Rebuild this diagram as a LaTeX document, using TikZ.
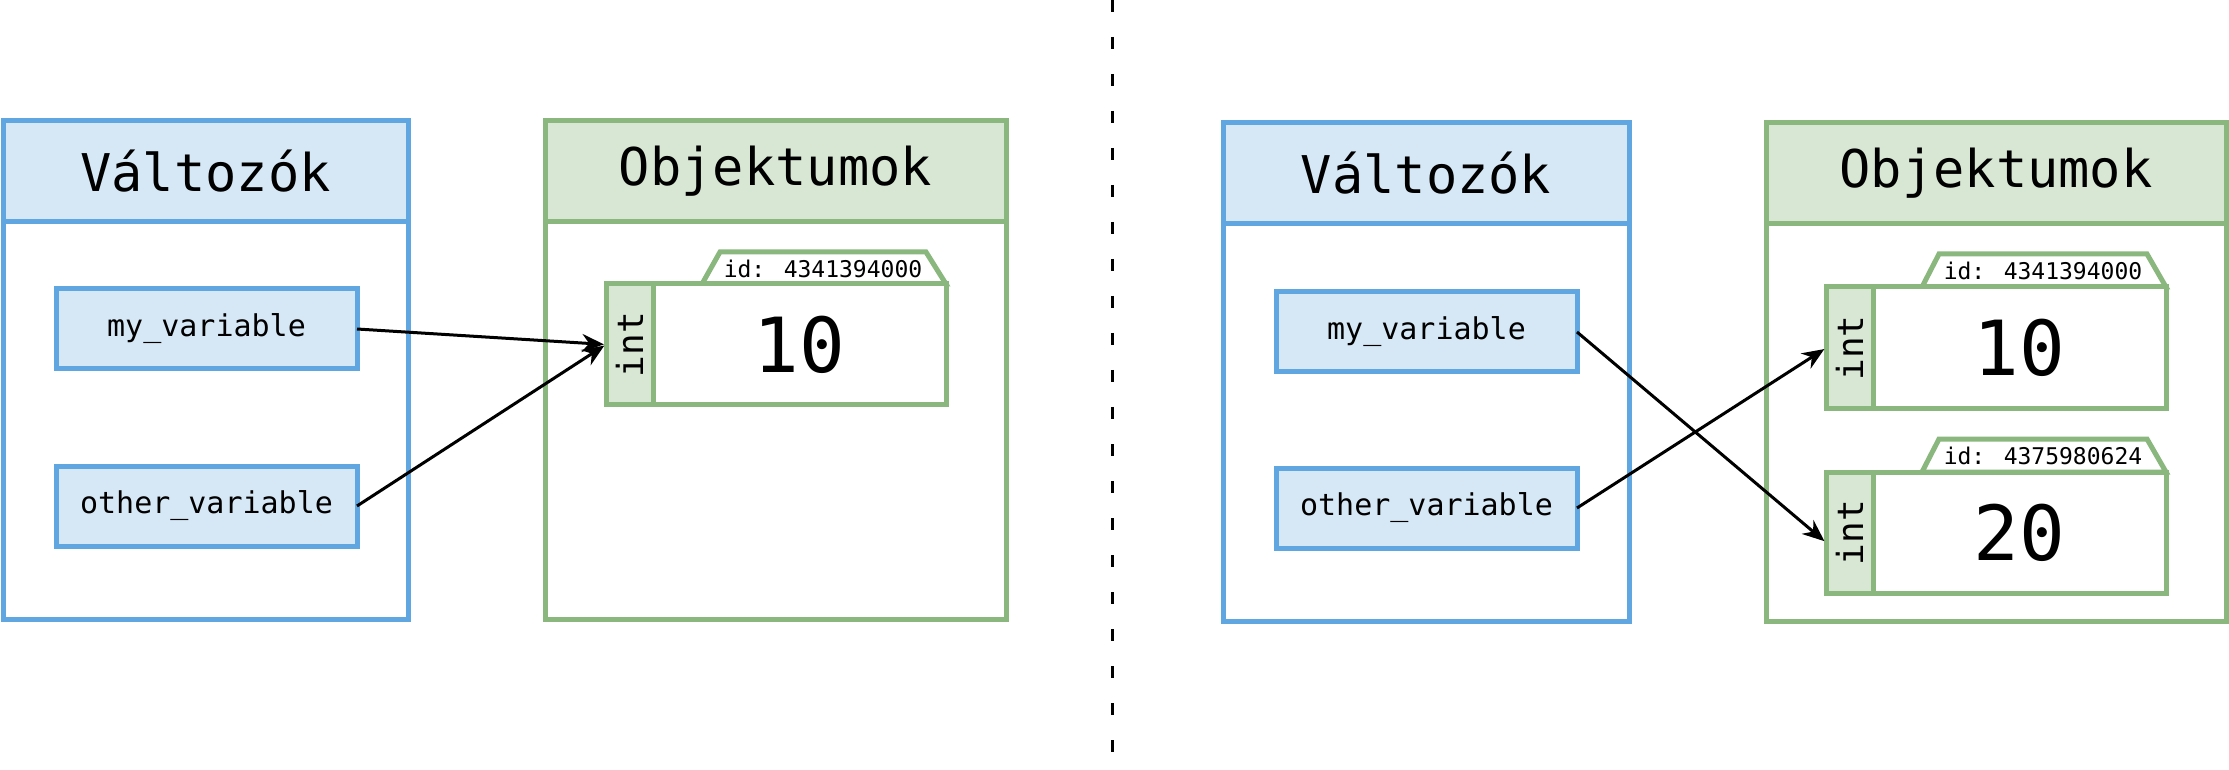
\documentclass[tikz,border=0pt]{standalone}
\usepackage{fontspec}
\setmainfont{DejaVu Sans Mono}
\usetikzlibrary{arrows.meta,calc}
\definecolor{bstroke}{RGB}{96,167,226}
\definecolor{bfill}{RGB}{214,232,246}
\definecolor{gstroke}{RGB}{138,183,125}
\definecolor{gfill}{RGB}{216,230,212}
\tikzset{
 sized/.style 2 args={minimum width=#1*0.5pt, minimum height=#2*0.5pt},
 panel/.style={inner sep=0pt, outer sep=0pt, line width=2.5pt},
 vpanel/.style={panel, draw=bstroke, fill=white},
 vhead/.style={panel, draw=bstroke, fill=bfill, font=\fontsize{26}{30}\selectfont},
 opanel/.style={panel, draw=gstroke, fill=white},
 ohead/.style={panel, draw=gstroke, fill=gfill, font=\fontsize{26}{30}\selectfont},
 varbox/.style={panel, draw=bstroke, fill=bfill, font=\fontsize{15}{18}\selectfont},
 typetab/.style={panel, draw=gstroke, fill=gfill, font=\fontsize{18}{20}\selectfont},
 valbox/.style={panel, draw=gstroke, fill=white, font=\fontsize{38}{40}\selectfont},
 idtag/.style={draw=gstroke, fill=white, line width=2.5pt, line join=miter},
 idtext/.style={inner sep=0pt, font=\fontsize{11.5}{13}\selectfont},
 ref/.style={line width=1.5pt, -{Stealth[length=11pt,width=9pt]}, shorten >=1pt},
 divider/.style={line width=1.5pt, dash pattern=on 6pt off 12.5pt},
}
\begin{document}
\begin{tikzpicture}[x=0.5pt,y=-0.5pt]
\useasboundingbox (0,0) rectangle (2229,770);
% divider
\coordinate (dtop) at (1112,0);
\coordinate (dbot) at (1112,770);
\draw[divider] (dtop) -- (dbot);

% ---------- left half ----------
\node[vpanel, sized={405}{498}] (vpL) at (205.5,370) {};
\node[vhead, sized={405}{101}] (vhL) at (205.5,171.5) {Változók};
\node[opanel, sized={461}{498}] (opL) at (775.5,370) {};
\node[ohead, sized={461}{101}] (ohL) at (775.5,171.5) {Objektumok};
\node[varbox, sized={301}{80}] (mvL) at (206.5,329) {my\_variable};
\node[varbox, sized={301}{80}] (ovL) at (206.5,506) {other\_variable};
\filldraw[idtag] (702,284) -- (720,252) -- (926,252) -- (946,284) -- cycle;
\node[idtext] (idL) at (823,268.5) {id: 4341394000};
\node[valbox, sized={293}{121}] (valL) at (799.5,344.5) {10};
\node[typetab, sized={47}{121}] (tabL) at (629.5,344.5) {\rotatebox{90}{int}};
\draw[ref] (mvL.east) -- (tabL.west);
\draw[ref] (ovL.east) -- (tabL.west);

% ---------- right half ----------
\node[vpanel, sized={406}{498}] (vpR) at (1426,372) {};
\node[vhead, sized={406}{101}] (vhR) at (1426,173.5) {Változók};
\node[opanel, sized={460}{498}] (opR) at (1996,372) {};
\node[ohead, sized={460}{101}] (ohR) at (1996,173.5) {Objektumok};
\node[varbox, sized={301}{80}] (mvR) at (1426.5,332) {my\_variable};
\node[varbox, sized={301}{80}] (ovR) at (1426.5,508) {other\_variable};
\filldraw[idtag] (1922,287) -- (1939,254) -- (2147,254) -- (2166,287) -- cycle;
\node[idtext] (idR1) at (2043,270.5) {id: 4341394000};
\node[valbox, sized={293}{122}] (valR1) at (2019.5,348) {10};
\node[typetab, sized={47}{122}] (tabR1) at (1849.5,348) {\rotatebox{90}{int}};
\filldraw[idtag] (1922,472) -- (1939,439) -- (2147,439) -- (2166,472) -- cycle;
\node[idtext] (idR2) at (2043,455.5) {id: 4375980624};
\node[valbox, sized={293}{121}] (valR2) at (2019.5,532.5) {20};
\node[typetab, sized={47}{121}] (tabR2) at (1849.5,532.5) {\rotatebox{90}{int}};
\draw[ref] (mvR.east) -- ($(tabR2.west)+(0,10)$);
\draw[ref] (ovR.east) -- (tabR1.west);
\end{tikzpicture}
\end{document}
